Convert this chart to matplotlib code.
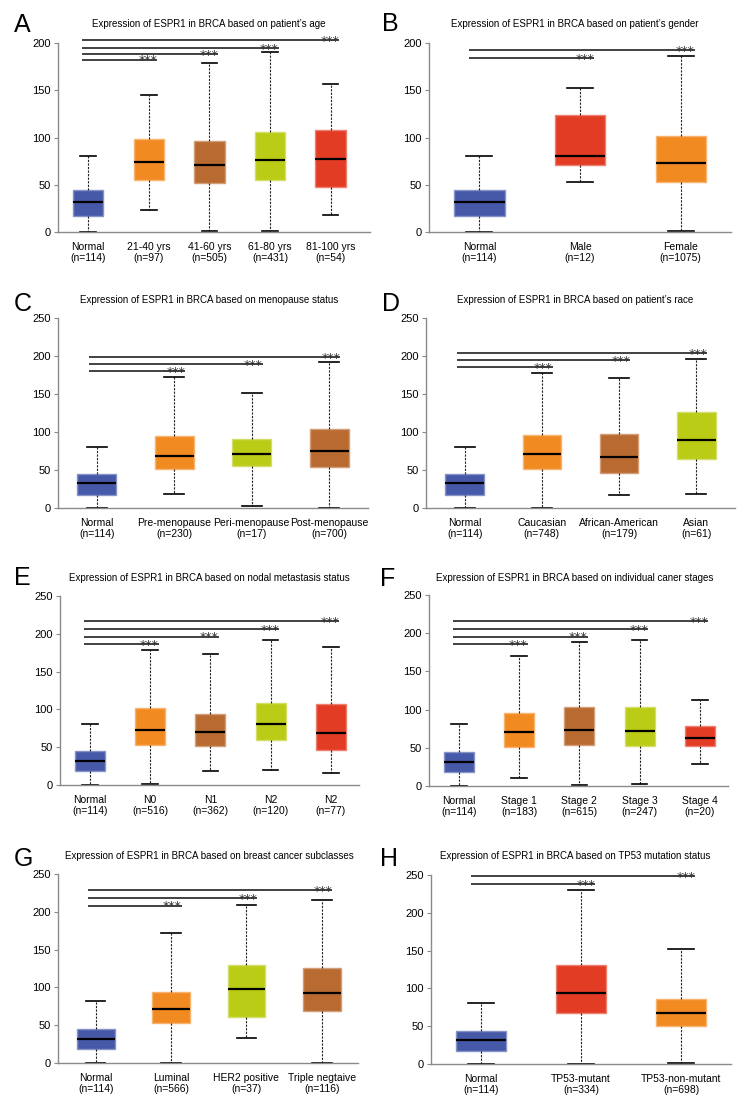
import matplotlib
matplotlib.use("Agg")
import matplotlib.pyplot as plt
from matplotlib.colors import to_rgb

plt.rcParams['font.family'] = ['Liberation Sans', 'DejaVu Sans']

# ---------------- data ----------------
A_groups = ["Normal", "21-40 yrs", "41-60 yrs", "61-80 yrs", "81-100 yrs"]
A_n = [114, 97, 505, 431, 54]
A_low = [0, 23.3, 0.7, 0.7, 17.6]
A_q1 = [17.3, 55, 51.5, 54.7, 47.6]
A_med = [32, 74.4, 70.5, 75.8, 77.2]
A_q3 = [44, 98, 96, 106, 108.3]
A_high = [80.8, 145, 179, 190.5, 156.6]
A_sig = [182.4, 188, 194.7, 203]

B_groups = ["Normal", "Male", "Female"]
B_n = [114, 12, 1075]
B_low = [0, 52.6, 0.7]
B_q1 = [17.3, 70.9, 53.3]
B_med = [32, 80.8, 73.4]
B_q3 = [44, 124.2, 101.6]
B_high = [80.8, 152.4, 186]
B_sig = [184, 192.2]

C_groups = ["Normal", "Pre-menopause", "Peri-menopause", "Post-menopause"]
C_n = [114, 230, 17, 700]
C_low = [0, 18.4, 3.1, 0.4]
C_q1 = [17.1, 50.9, 55.3, 54.4]
C_med = [32.5, 68.4, 70.6, 75.4]
C_q3 = [44.3, 95.2, 90.4, 104]
C_high = [80.7, 172.4, 151.3, 191.7]
C_sig = [180.7, 189.5, 199.1]

D_groups = ["Normal", "Caucasian", "African-American", "Asian"]
D_n = [114, 748, 179, 61]
D_low = [0, 0.4, 17.5, 18.4]
D_q1 = [17.1, 51.8, 46.5, 64.5]
D_med = [32.5, 71.5, 67.1, 89.9]
D_q3 = [44.3, 96.5, 97.4, 126.3]
D_high = [80.7, 178, 171.5, 195.6]
D_sig = [185, 194.7, 204.4]

E_groups = ["Normal", "N0", "N1", "N2", "N2"]
E_n = [114, 516, 362, 120, 77]
E_low = [0, 0.9, 18.5, 19.8, 15.8]
E_q1 = [18.5, 53.3, 51.9, 59.9, 46.2]
E_med = [31.7, 72.2, 70.4, 80.1, 68.7]
E_q3 = [44.5, 101.7, 93.3, 108.3, 106.5]
E_high = [80.5, 178.3, 173, 191.5, 182.2]
E_sig = [186.2, 196.3, 206.4, 217.4]

F_groups = ["Normal", "Stage 1", "Stage 2", "Stage 3", "Stage 4"]
F_n = [114, 183, 615, 247, 20]
F_low = [0, 10.9, 0.9, 2.6, 28.4]
F_q1 = [17.9, 50.6, 54.1, 51.9, 52.4]
F_med = [31.4, 71.1, 73.7, 72, 62.8]
F_q3 = [44.5, 95.1, 103, 103.4, 78.1]
F_high = [80.7, 170.6, 188, 191.5, 113]
F_sig = [185.4, 195.5, 205, 216]

G_groups = ["Normal", "Luminal", "HER2 positive", "Triple negtaive"]
G_n = [114, 566, 37, 116]
G_low = [0, 0.4, 33, 0.4]
G_q1 = [18, 52.4, 61.2, 68.7]
G_med = [32.1, 71.7, 97.3, 92]
G_q3 = [44.9, 93.8, 129.4, 125.9]
G_high = [81.4, 172, 209, 215.7]
G_sig = [208.2, 218.3, 228.4]

H_groups = ["Normal", "TP53-mutant", "TP53-non-mutant"]
H_n = [114, 334, 698]
H_low = [0, 0.4, 0.9]
H_q1 = [17.1, 66.8, 50.1]
H_med = [32.1, 94.5, 66.8]
H_q3 = [43.9, 130.5, 86.6]
H_high = [80.4, 230.7, 152]
H_sig = [238.1, 248.2]

titles = {
    "A": "Expression of ESPR1 in BRCA based on patient\u2019s age",
    "B": "Expression of ESPR1 in BRCA based on patient\u2019s gender",
    "C": "Expression of ESPR1 in BRCA based on menopause status",
    "D": "Expression of ESPR1 in BRCA based on patient\u2019s race",
    "E": "Expression of ESPR1 in BRCA based on nodal metastasis status",
    "F": "Expression of ESPR1 in BRCA based on individual caner stages",
    "G": "Expression of ESPR1 in BRCA based on breast cancer subclasses",
    "H": "Expression of ESPR1 in BRCA based on TP53 mutation status",
}

# ---------------- styles / layout ----------------
BLUE = "#4659A8"
ORANGE = "#F28A22"
BROWN = "#B96A30"
LIME = "#BBCC17"
RED = "#E33C25"

colors = {
    "A": [BLUE, ORANGE, BROWN, LIME, RED],
    "B": [BLUE, RED, ORANGE],
    "C": [BLUE, ORANGE, LIME, BROWN],
    "D": [BLUE, ORANGE, BROWN, LIME],
    "E": [BLUE, ORANGE, BROWN, LIME, RED],
    "F": [BLUE, ORANGE, BROWN, LIME, RED],
    "G": [BLUE, ORANGE, LIME, BROWN],
    "H": [BLUE, RED, ORANGE],
}

layout = {
    "A": (58, 370, 43, 232, 200, 4.65),
    "B": (429, 731, 43, 232, 200, 2.5),
    "C": (58, 368, 318, 508, 250, 3.5),
    "D": (426, 735, 318, 508, 250, 3.5),
    "E": (60, 359, 596, 785, 250, 4.47),
    "F": (429, 728, 595, 786, 250, 4.47),
    "G": (58, 358, 874, 1063, 250, 3.48),
    "H": (431, 731, 875, 1064, 250, 2.5),
}
title_pos = {"A": (209, 24), "B": (575, 24), "C": (209, 300), "D": (575, 300),
             "E": (209, 578), "F": (575, 578), "G": (209, 856), "H": (575, 856)}
letter_pos = {"A": (14, 32), "B": (382, 31), "C": (14, 311), "D": (382, 311),
              "E": (14, 585), "F": (380, 586), "G": (14, 866), "H": (380, 866)}

panels = {
    "A": (A_groups, A_n, A_low, A_q1, A_med, A_q3, A_high, A_sig),
    "B": (B_groups, B_n, B_low, B_q1, B_med, B_q3, B_high, B_sig),
    "C": (C_groups, C_n, C_low, C_q1, C_med, C_q3, C_high, C_sig),
    "D": (D_groups, D_n, D_low, D_q1, D_med, D_q3, D_high, D_sig),
    "E": (E_groups, E_n, E_low, E_q1, E_med, E_q3, E_high, E_sig),
    "F": (F_groups, F_n, F_low, F_q1, F_med, F_q3, F_high, F_sig),
    "G": (G_groups, G_n, G_low, G_q1, G_med, G_q3, G_high, G_sig),
    "H": (H_groups, H_n, H_low, H_q1, H_med, H_q3, H_high, H_sig),
}

TITLE_FS = 7
TICK_FS = 7.5
YTICK_FS = 8
LETTER_FS = 18

W, H = 756, 1116
fig = plt.figure(figsize=(W / 100, H / 100), dpi=100)

SPINE = "#8a8a8a"


def lighten(c, f=0.35):
    r, g, b = to_rgb(c)
    return (r + (1 - r) * f, g + (1 - g) * f, b + (1 - b) * f)


for key, (groups, ns, lo, q1, med, q3, hi, sig) in panels.items():
    x0, x1, yt, yb, ymax, xr = layout[key]
    ax = fig.add_axes([x0 / W, 1 - yb / H, (x1 - x0) / W, (yb - yt) / H])
    stats = []
    for i in range(len(groups)):
        stats.append(dict(med=med[i], q1=q1[i], q3=q3[i], whislo=lo[i],
                          whishi=hi[i], fliers=[]))
    pos = list(range(len(groups)))
    bp = ax.bxp(stats, positions=pos, widths=0.5, patch_artist=True,
                showfliers=False, capwidths=0.26,
                boxprops=dict(linewidth=1.0),
                whiskerprops=dict(linestyle=(0, (2.0, 1.2)), linewidth=0.8,
                                  color="#222222"),
                capprops=dict(linewidth=1.2, color="black"),
                medianprops=dict(linewidth=1.6, color="black"))
    for patch, c in zip(bp["boxes"], colors[key]):
        patch.set_facecolor(c)
        patch.set_edgecolor(lighten(c))
    for cap in bp["caps"]:
        cap.set_clip_on(False)

    ax.set_xlim(-0.5, xr)
    ax.set_ylim(0, ymax)
    ax.set_yticks(list(range(0, ymax + 1, 50)))
    ax.set_xticks(pos)
    ax.set_xticklabels([f"{g}\n(n={n})" for g, n in zip(groups, ns)],
                       fontsize=TICK_FS, linespacing=1.15)
    ax.tick_params(axis="x", length=0, pad=7)
    ax.tick_params(axis="y", length=3, width=0.8, color=SPINE, pad=2,
                   labelsize=YTICK_FS)
    for s in ["top", "right"]:
        ax.spines[s].set_visible(False)
    for s in ["left", "bottom"]:
        ax.spines[s].set_color(SPINE)
        ax.spines[s].set_linewidth(1.0)

    # significance bars
    for j, yv in enumerate(sig):
        xe = j + 1 + 0.14
        ax.plot([-0.1, xe], [yv, yv], color="#333333", lw=1.3,
                clip_on=False, solid_capstyle="butt")
        ax.annotate("***", xy=(xe, yv), xytext=(0, -3.5),
                    textcoords="offset points", ha="right", va="baseline",
                    fontsize=9, family="DejaVu Sans", color="#333333",
                    annotation_clip=False)

    tx, ty = title_pos[key]
    fig.text(tx / W, 1 - ty / H, titles[key], ha="center", va="center",
             fontsize=TITLE_FS)
    lx, ly = letter_pos[key]
    fig.text(lx / W, 1 - ly / H, key, ha="left", va="baseline",
             fontsize=LETTER_FS)

fig.savefig("out.png", dpi=100)
